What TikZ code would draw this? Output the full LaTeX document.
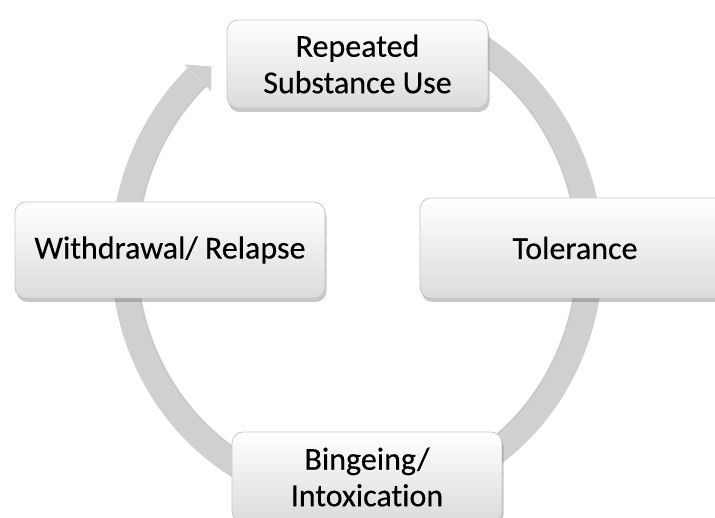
\documentclass[tikz,border=0pt]{standalone}
\usepackage{fontspec}
\setmainfont[Ligatures=NoCommon, FakeBold=0.35]{Carlito}
\usetikzlibrary{shadows,calc}
\definecolor{ringgray}{HTML}{D0D0D0}
\begin{document}
\begin{tikzpicture}[x=1pt,y=-1pt,
  box/.style={draw=black!22, line width=0.8pt, rounded corners=11pt,
    top color=white, bottom color=black!14,
    drop shadow={shadow xshift=1.5pt, shadow yshift=-4pt, opacity=0.3, fill=black!70},
    align=center, inner sep=0pt, font=\fontsize{32}{36.5}\selectfont},
  ringline/.style={draw=ringgray, line width=26pt},
  ringedge/.style={draw=black!35, line width=1.5pt, opacity=0.35}
]
\useasboundingbox (0,0) rectangle (715,518);
\clip (0,0) rectangle (715,518);
\fill[white] (0,0) rectangle (715,518);
% ring
\draw[ringline] plot[domain=-62:226.6, samples=160, smooth] ({357+233*cos(\x)},{255+245*sin(\x)});
\draw[ringedge] plot[domain=-62:226.6, samples=160, smooth] ({357+220*cos(\x)},{255+232*sin(\x)});
\coordinate (hl) at (184.6,64.5);
\coordinate (ht) at (211.5,66.5);
\coordinate (hr) at (211.4,91.5);
\fill[ringgray] (hl) -- (ht) -- (hr) -- cycle;
% boxes
\node[box, minimum width=261pt, minimum height=88pt] (rep) at (357.5,64) {Repeated\\Substance Use};
\node[box, minimum width=310pt, minimum height=100pt] (tol) at (575,248) {Tolerance};
\node[box, minimum width=310pt, minimum height=96pt] (wd) at (170,250) {Withdrawal/ Relapse};
\node[box, minimum width=270pt, minimum height=90pt] (bi) at (367,477) {Bingeing/\\Intoxication};
\end{tikzpicture}
\end{document}
